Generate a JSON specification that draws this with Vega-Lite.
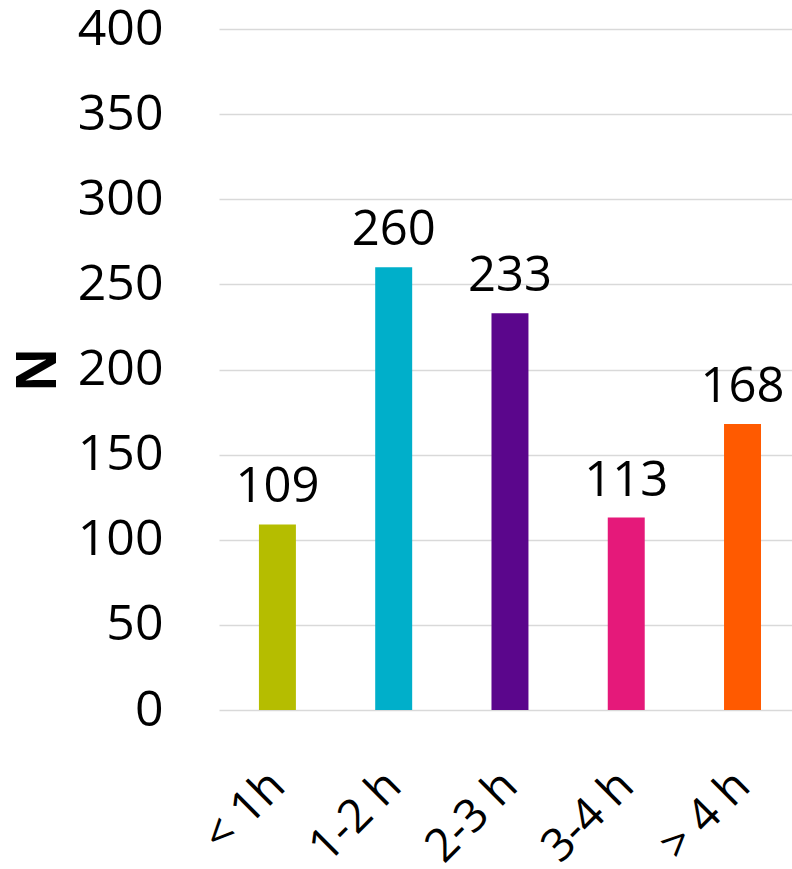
{
  "$schema": "https://vega.github.io/schema/vega-lite/v6.json",
  "width": 573,
  "height": 681,
  "autosize": "none",
  "padding": {"left": 219, "top": 29, "right": 0, "bottom": 159},
  "background": "white",
  "config": {
    "view": {"stroke": null},
    "font": "Open Sans",
    "text": {"font": "Open Sans"}
  },
  "data": {
    "values": [
      {"duration": "< 1h", "N": 109},
      {"duration": "1-2 h", "N": 260},
      {"duration": "2-3 h", "N": 233},
      {"duration": "3-4 h", "N": 113},
      {"duration": "> 4 h", "N": 168}
    ]
  },
  "encoding": {
    "x": {
      "field": "duration",
      "type": "nominal",
      "sort": null,
      "scale": {"paddingInner": 0.682, "paddingOuter": 0.305, "align": 0.563},
      "axis": {
        "title": null,
        "labelAngle": -45,
        "labelAlign": "right",
        "labelBaseline": "alphabetic",
        "labelFontSize": 46,
        "labelColor": "#000000",
        "labelPadding": 78,
        "labelOffset": 10,
        "ticks": false,
        "domain": false
      }
    },
    "y": {
      "field": "N",
      "type": "quantitative",
      "scale": {"domain": [0, 400]},
      "axis": {
        "title": "N",
        "titleFontSize": 55,
        "titleFontWeight": "bold",
        "titleColor": "#000000",
        "titleAngle": -90,
        "titleX": -181,
        "titleY": 340.5,
        "titleAlign": "center",
        "titleBaseline": "middle",
        "values": [0, 50, 100, 150, 200, 250, 300, 350, 400],
        "labelFontSize": 50,
        "labelColor": "#000000",
        "labelPadding": 56,
        "ticks": false,
        "domain": false,
        "gridColor": "#d9d9d9",
        "gridWidth": 1.5
      }
    }
  },
  "layer": [
    {
      "mark": {"type": "bar"},
      "encoding": {
        "color": {
          "field": "duration",
          "type": "nominal",
          "sort": null,
          "scale": {
            "domain": ["< 1h", "1-2 h", "2-3 h", "3-4 h", "> 4 h"],
            "range": ["#b5bd00", "#00afca", "#5b068c", "#e5197a", "#ff5a00"]
          },
          "legend": null
        }
      }
    },
    {
      "mark": {"type": "text", "baseline": "alphabetic", "dy": -22, "fontSize": 49, "color": "#000000"},
      "encoding": {"text": {"field": "N", "type": "quantitative"}}
    }
  ]
}
